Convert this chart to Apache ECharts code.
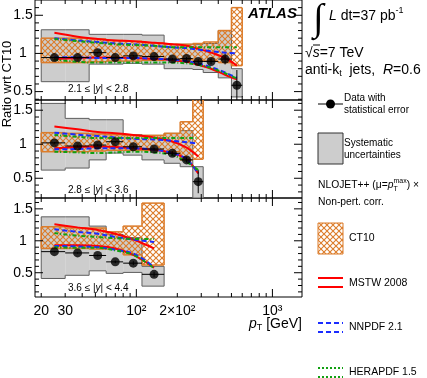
<!DOCTYPE html>
<html>
<head>
<meta charset="utf-8">
<script src="https://cdn.jsdelivr.net/npm/echarts@6/dist/echarts.min.js"></script>
<style>
  html, body { margin: 0; padding: 0; background: #fff; }
  #chart { width: 427px; height: 378px; }
</style>
</head>
<body>
<div id="chart"></div>
<script>
// bin edges (GeV) and points for each rapidity slice
const edges1 = [20, 30, 45, 60, 80, 110, 160, 210, 260, 310, 400, 500, 600];
const centers1 = [25, 37, 52, 70, 95, 135, 184, 234, 285, 354, 449, 548];
const ratio1 = [0.946, 0.946, 1.01, 0.946, 0.968, 0.959, 0.926, 0.933, 0.895, 0.895, 0.926, 0.583];
const stat1 = [0.01, 0.01, 0.01, 0.01, 0.01, 0.01, 0.015, 0.02, 0.025, 0.035, 0.07, 0.2];
const sysLo1 = [0.63, 0.63, 0.86, 0.86, 0.87, 0.86, 0.80, 0.80, 0.79, 0.75, 0.68, 0.43];
const sysHi1 = [1.31, 1.31, 1.25, 1.25, 1.25, 1.24, 1.12, 1.12, 1.12, 1.13, 1.30, 0.80];
const ctLo1 = [0.88, 0.88, 0.89, 0.90, 0.90, 0.91, 0.92, 0.92, 0.91, 0.90, 0.88, 0.84];
const ctHi1 = [1.20, 1.20, 1.19, 1.17, 1.16, 1.14, 1.12, 1.12, 1.13, 1.15, 1.30, 1.60];
const mstwLo1 = [0.925, 0.94, 0.946, 0.945, 0.94, 0.93, 0.91, 0.89, 0.85, 0.80, 0.72, 0.66];
const mstwHi1 = [1.27, 1.22, 1.19, 1.17, 1.16, 1.14, 1.12, 1.10, 1.06, 1.01, 0.94, 0.84];
const nnLo1 = [0.95, 0.95, 0.94, 0.94, 0.94, 0.93, 0.92, 0.90, 0.87, 0.82, 0.75, 0.68];
const nnHi1 = [1.20, 1.17, 1.15, 1.13, 1.12, 1.10, 1.08, 1.07, 1.05, 1.03, 1.01, 1.00];
const heraLo1 = [0.92, 0.89, 0.88, 0.88, 0.88, 0.88, 0.88, 0.87, 0.85, 0.81, 0.74, 0.67];
const heraHi1 = [1.19, 1.16, 1.14, 1.12, 1.11, 1.10, 1.08, 1.08, 1.08, 1.08, 1.08, 1.08];

const edges2 = [20, 30, 45, 60, 80, 110, 160, 210, 260, 310];
const centers2 = [25, 37, 52, 70, 95, 135, 184, 234, 285];
const ratio2 = [1.02, 0.974, 0.988, 1.037, 0.963, 0.93, 0.867, 0.77, 0.45];
const stat2 = [0.01, 0.01, 0.01, 0.01, 0.015, 0.02, 0.03, 0.04, 0.17];
const sysLo2 = [0.62, 0.65, 0.77, 0.87, 0.84, 0.77, 0.72, 0.67, 0.21];
const sysHi2 = [1.60, 1.38, 1.36, 1.36, 1.14, 1.13, 1.16, 1.20, 0.67];
const ctLo2 = [0.89, 0.89, 0.90, 0.91, 0.91, 0.91, 0.89, 0.77, 0.78];
const ctHi2 = [1.17, 1.16, 1.15, 1.14, 1.13, 1.13, 1.16, 1.33, 1.70];
const mstwLo2 = [0.94, 0.96, 0.965, 0.96, 0.94, 0.92, 0.87, 0.78, 0.57];
const mstwHi2 = [1.26, 1.22, 1.18, 1.16, 1.135, 1.10, 1.04, 0.95, 0.82];
const nnLo2 = [0.925, 0.93, 0.94, 0.94, 0.94, 0.92, 0.87, 0.78, 0.57];
const nnHi2 = [1.17, 1.14, 1.12, 1.10, 1.08, 1.07, 1.05, 1.03, 1.01];
const heraLo2 = [0.89, 0.88, 0.87, 0.88, 0.89, 0.88, 0.84, 0.74, 0.62];
const heraHi2 = [1.135, 1.11, 1.09, 1.09, 1.09, 1.09, 1.09, 1.09, 1.09];

const edges3 = [20, 30, 45, 60, 80, 110, 160];
const centers3 = [25, 37, 52, 70, 95, 135];
const ratio3 = [0.83, 0.81, 0.77, 0.67, 0.65, 0.475];
const stat3 = [0.01, 0.01, 0.015, 0.02, 0.03, 0.04];
const sysLo3 = [0.41, 0.46, 0.53, 0.49, 0.505, 0.29];
const sysHi3 = [1.375, 1.375, 1.23, 1.10, 1.05, 0.60];
const ctLo3 = [0.88, 0.88, 0.87, 0.87, 0.78, 0.62];
const ctHi3 = [1.22, 1.20, 1.20, 1.14, 1.23, 1.59];
const mstwLo3 = [0.93, 0.93, 0.92, 0.88, 0.78, 0.58];
const mstwHi3 = [1.26, 1.21, 1.17, 1.11, 1.02, 0.88];
const nnLo3 = [0.92, 0.91, 0.90, 0.86, 0.80, 0.59];
const nnHi3 = [1.18, 1.14, 1.11, 1.06, 1.02, 0.98];
const heraLo3 = [0.90, 0.89, 0.89, 0.85, 0.78, 0.57];
const heraHi3 = [1.12, 1.08, 1.06, 1.04, 1.03, 1.03];

const rapLabels = ['2.1 ≤ |', '2.8 ≤ |', '3.6 ≤ |'];
const rapUpper = ['| < 2.8', '| < 3.6', '| < 4.4'];

// axis ticks and labels
const xTicks = [20, 30, 40, 50, 60, 70, 80, 90, 100, 200, 300, 400, 500, 600, 700, 800, 900, 1000];
const xMajor = [100, 1000];
const xLabelVals = [20, 30, 100, 200, 1000];
const xLabels = ['20', '30', '10²', '2×10²', '10³'];
const yTicks = [0.2, 0.3, 0.4, 0.5, 0.6, 0.7, 0.8, 0.9, 1.0, 1.1, 1.2, 1.3, 1.4, 1.5, 1.6];
const yLabelVals = [0.5, 1, 1.5];

const xMin = 18, xMax = 1650;
const layout = [
  { top: -2, height: 102, yMin: 0.39, yMax: 1.70, labelY: 89 },
  { top: 100, height: 98, yMin: 0.21, yMax: 1.65, labelY: 190 },
  { top: 198, height: 99, yMin: 0.12, yMax: 1.67, labelY: 288 }
];

const panels = [
  { edges: edges1, centers: centers1, ratio: ratio1, stat: stat1, sysLo: sysLo1, sysHi: sysHi1, ctLo: ctLo1, ctHi: ctHi1,
    mstw: [mstwLo1, mstwHi1], nn: [nnLo1, nnHi1], hera: [heraLo1, heraHi1] },
  { edges: edges2, centers: centers2, ratio: ratio2, stat: stat2, sysLo: sysLo2, sysHi: sysHi2, ctLo: ctLo2, ctHi: ctHi2,
    mstw: [mstwLo2, mstwHi2], nn: [nnLo2, nnHi2], hera: [heraLo2, heraHi2] },
  { edges: edges3, centers: centers3, ratio: ratio3, stat: stat3, sysLo: sysLo3, sysHi: sysHi3, ctLo: ctLo3, ctHi: ctHi3,
    mstw: [mstwLo3, mstwHi3], nn: [nnLo3, nnHi3], hera: [heraLo3, heraHi3] }
];

const FONT = 'Liberation Sans';
const ORANGE = '#dc7c2a';
const GRAYFILL = '#cdcdcd';
const GRAYLINE = '#5e5e5e';

// cross hatch for CT10
const hatchCanvas = document.createElement('canvas');
hatchCanvas.width = 6; hatchCanvas.height = 6;
const hc = hatchCanvas.getContext('2d');
hc.strokeStyle = ORANGE; hc.lineWidth = 1.1;
hc.beginPath();
hc.moveTo(0, 0); hc.lineTo(6, 6);
hc.moveTo(6, 0); hc.lineTo(0, 6);
hc.stroke();
const hatch = { image: hatchCanvas, repeat: 'repeat' };

function band(k, edges, lo, hi, fill, stroke, lw, z) {
  return {
    type: 'custom', xAxisIndex: k, yAxisIndex: k, z, clip: true, silent: true,
    data: lo.map((v, i) => [edges[i], hi[i]]),
    renderItem(params, api) {
      const i = params.dataIndex;
      const a = api.coord([edges[i], hi[i]]);
      const b = api.coord([edges[i + 1], lo[i]]);
      const kids = [{ type: 'rect', shape: { x: a[0], y: a[1], width: b[0] - a[0], height: b[1] - a[1] }, style: { fill } }];
      const seg = (x1, y1, x2, y2) => kids.push({ type: 'line', shape: { x1, y1, x2, y2 }, style: { stroke, lineWidth: lw } });
      seg(a[0], a[1], b[0], a[1]);
      seg(a[0], b[1], b[0], b[1]);
      if (i === 0) {
        seg(a[0], a[1], a[0], b[1]);
      } else {
        const pa = api.coord([edges[i], hi[i - 1]]);
        const pb = api.coord([edges[i], lo[i - 1]]);
        seg(a[0], a[1], a[0], pa[1]);
        seg(a[0], b[1], a[0], pb[1]);
      }
      if (i === lo.length - 1) seg(b[0], a[1], b[0], b[1]);
      return { type: 'group', children: kids };
    }
  };
}

function curve(k, centers, vals, color, type) {
  return {
    type: 'line', xAxisIndex: k, yAxisIndex: k, z: 3, silent: true, clip: true,
    data: centers.map((c, i) => [c, vals[i]]),
    smooth: 0.35, symbol: 'none',
    lineStyle: { color, width: 2, type }
  };
}

const series = [];
panels.forEach((p, k) => {
  const L = layout[k];
  series.push(band(k, p.edges, p.sysLo, p.sysHi, GRAYFILL, GRAYLINE, 1, 1));
  series.push(band(k, p.edges, p.ctLo, p.ctHi, hatch, ORANGE, 1.5, 2));
  p.mstw.forEach(v => series.push(curve(k, p.centers, v, '#ff0000', 'solid')));
  p.nn.forEach(v => series.push(curve(k, p.centers, v, '#1a2cff', [5, 3])));
  p.hera.forEach(v => series.push(curve(k, p.centers, v, '#11a011', [4, 2, 1, 2])));

  // horizontal bin width + stat error
  series.push({
    type: 'custom', xAxisIndex: k, yAxisIndex: k, z: 4, silent: true, clip: true,
    data: p.ratio.map((r, i) => [p.centers[i], r]),
    renderItem(params, api) {
      const i = params.dataIndex;
      const l = api.coord([p.edges[i], p.ratio[i]]);
      const r = api.coord([p.edges[i + 1], p.ratio[i]]);
      const t = api.coord([p.centers[i], p.ratio[i] + p.stat[i]]);
      const b = api.coord([p.centers[i], p.ratio[i] - p.stat[i]]);
      const st = { stroke: '#000', lineWidth: 1 };
      return { type: 'group', children: [
        { type: 'line', shape: { x1: l[0], y1: l[1], x2: r[0], y2: r[1] }, style: st },
        { type: 'line', shape: { x1: t[0], y1: t[1], x2: b[0], y2: b[1] }, style: st }
      ] };
    }
  });
  series.push({
    type: 'scatter', xAxisIndex: k, yAxisIndex: k, z: 5, silent: true,
    data: p.ratio.map((r, i) => [p.centers[i], r]),
    symbolSize: 9, itemStyle: { color: '#000' }
  });

  // x ticks (top and bottom, inward) + labels on bottom panel
  series.push({
    type: 'custom', xAxisIndex: k, yAxisIndex: k, z: 6, silent: true, clip: false,
    data: xTicks.map(v => [v, L.yMin]),
    renderItem(params, api) {
      const v = xTicks[params.dataIndex];
      const len = xMajor.includes(v) ? 8 : 4;
      const b = api.coord([v, L.yMin]);
      const t = api.coord([v, L.yMax]);
      const kids = [
        { type: 'line', shape: { x1: b[0], y1: b[1], x2: b[0], y2: b[1] - len }, style: { stroke: '#000', lineWidth: 1 } },
        { type: 'line', shape: { x1: t[0], y1: t[1], x2: t[0], y2: t[1] + len }, style: { stroke: '#000', lineWidth: 1 } }
      ];
      const li = xLabelVals.indexOf(v);
      if (k === 2 && li >= 0) {
        kids.push({ type: 'text', x: b[0], y: b[1] + 14, style: {
          text: xLabels[li], fill: '#000', fontFamily: FONT, fontSize: 14, align: 'center', verticalAlign: 'middle' } });
      }
      return { type: 'group', children: kids };
    }
  });
  // y ticks (left and right, inward) + labels
  const yT = yTicks.filter(v => v > L.yMin && v < L.yMax);
  series.push({
    type: 'custom', xAxisIndex: k, yAxisIndex: k, z: 6, silent: true, clip: false,
    data: yT.map(v => [xMin, v]),
    renderItem(params, api) {
      const v = yT[params.dataIndex];
      const major = yLabelVals.some(m => Math.abs(m - v) < 1e-6);
      const len = major ? 8 : 4;
      const l = api.coord([xMin, v]);
      const r = api.coord([xMax, v]);
      const kids = [
        { type: 'line', shape: { x1: l[0], y1: l[1], x2: l[0] + len, y2: l[1] }, style: { stroke: '#000', lineWidth: 1 } },
        { type: 'line', shape: { x1: r[0], y1: r[1], x2: r[0] - len, y2: r[1] }, style: { stroke: '#000', lineWidth: 1 } }
      ];
      if (major) {
        kids.push({ type: 'text', x: l[0] - 12, y: l[1], style: {
          text: String(v), fill: '#000', fontFamily: FONT, fontSize: 14, align: 'center', verticalAlign: 'middle' } });
      }
      return { type: 'group', children: kids };
    }
  });
});

// text runs for legend / annotations
const meas = document.createElement('canvas').getContext('2d');
function fontOf(p) {
  return (p.italic ? 'italic ' : '') + (p.bold ? 'bold ' : '') + p.size + 'px "' + FONT + '"';
}
function runWidth(parts) {
  let w = 0;
  parts.forEach(p => { meas.font = fontOf(p); if (!p.stay) w += meas.measureText(p.t).width; });
  return w;
}
function run(x, y, parts) {
  const out = [];
  parts.forEach(p => {
    out.push({ type: 'text', x, y: y + (p.dy || 0), silent: true, z: 10, style: {
      text: p.t, fill: '#000', fontFamily: FONT, fontSize: p.size,
      fontStyle: p.italic ? 'italic' : 'normal', fontWeight: p.bold ? 'bold' : 'normal', verticalAlign: 'middle' } });
    meas.font = fontOf(p);
    if (!p.stay) x += meas.measureText(p.t).width;
  });
  return out;
}

const graphic = [];
// integrated luminosity
graphic.push({ type: 'text', x: 313, y: 20, silent: true, style: { text: '∫', fill: '#000', fontFamily: 'Liberation Serif', fontSize: 38, verticalAlign: 'middle' } });
graphic.push(...run(329, 16, [{ t: 'L', size: 14, italic: true }, { t: ' dt=37 pb', size: 14 }, { t: '-1', size: 9, dy: -5 }]));
graphic.push(...run(305, 53, [{ t: '√', size: 14 }, { t: 's', size: 14, italic: true }, { t: '=7 TeV', size: 14 }]));
graphic.push({ type: 'line', silent: true, shape: { x1: 313, y1: 45, x2: 320, y2: 45 }, style: { stroke: '#000', lineWidth: 1 } });
graphic.push(...run(305, 70, [{ t: 'anti-k', size: 14 }, { t: 't', size: 9, dy: 4 }, { t: '  jets,  ', size: 14 }, { t: 'R', size: 14, italic: true }, { t: '=0.6', size: 14 }]));
// ATLAS
graphic.push(...run(248, 14, [{ t: 'ATLAS', size: 15, bold: true, italic: true }]));

// data legend
graphic.push({ type: 'line', silent: true, shape: { x1: 318, y1: 104, x2: 343, y2: 104 }, style: { stroke: '#000', lineWidth: 1 } });
graphic.push({ type: 'circle', silent: true, shape: { cx: 330.5, cy: 104, r: 4.5 }, style: { fill: '#000' } });
graphic.push(...run(344, 98, [{ t: 'Data with', size: 10 }]));
graphic.push(...run(344, 110, [{ t: 'statistical error', size: 10 }]));
// systematic legend
graphic.push({ type: 'rect', silent: true, shape: { x: 318, y: 133, width: 25, height: 31 }, style: { fill: GRAYFILL, stroke: '#333', lineWidth: 1 } });
graphic.push(...run(344, 143, [{ t: 'Systematic', size: 10 }]));
graphic.push(...run(344, 155, [{ t: 'uncertainties', size: 10 }]));
// NLO description
graphic.push(...run(318, 185, [{ t: 'NLOJET++ (μ=', size: 10.3 }, { t: 'p', size: 10.3, italic: true },
  { t: 'T', size: 7, dy: 4, stay: true }, { t: 'max', size: 7, dy: -4 }, { t: ') ×', size: 10.3 }]));
graphic.push(...run(318, 202, [{ t: 'Non-pert. corr.', size: 10.3 }]));
// CT10
graphic.push({ type: 'rect', silent: true, shape: { x: 318, y: 223, width: 25, height: 31 }, style: { fill: hatch, stroke: ORANGE, lineWidth: 1 } });
graphic.push(...run(349, 238, [{ t: 'CT10', size: 10.5 }]));
// MSTW
[278, 287].forEach(y => graphic.push({ type: 'line', silent: true, shape: { x1: 318, y1: y, x2: 343, y2: y }, style: { stroke: '#ff0000', lineWidth: 2 } }));
graphic.push(...run(349, 283, [{ t: 'MSTW 2008', size: 10.5 }]));
// NNPDF
[323, 332].forEach(y => graphic.push({ type: 'line', silent: true, shape: { x1: 318, y1: y, x2: 343, y2: y }, style: { stroke: '#1a2cff', lineWidth: 2, lineDash: [5, 3] } }));
graphic.push(...run(349, 327, [{ t: 'NNPDF 2.1', size: 10.5 }]));
// HERAPDF
[368, 377].forEach(y => graphic.push({ type: 'line', silent: true, shape: { x1: 318, y1: y, x2: 343, y2: y }, style: { stroke: '#11a011', lineWidth: 2, lineDash: [2, 2] } }));
graphic.push(...run(349, 372, [{ t: 'HERAPDF 1.5', size: 10.5 }]));

// rapidity labels
layout.forEach((L, k) => {
  graphic.push(...run(68, L.labelY, [{ t: rapLabels[k], size: 10 }, { t: 'y', size: 10, italic: true }, { t: rapUpper[k], size: 10 }]));
});

// axis titles
graphic.push({ type: 'text', x: 7, y: 84, rotation: Math.PI / 2, silent: true, style: {
  text: 'Ratio wrt CT10', fill: '#000', fontFamily: FONT, fontSize: 13, align: 'center', verticalAlign: 'middle' } });
const xTitle = [{ t: 'p', size: 14, italic: true }, { t: 'T', size: 9, dy: 4 }, { t: ' [GeV]', size: 14 }];
graphic.push(...run(302 - runWidth(xTitle), 324, xTitle));

const chart = echarts.init(document.getElementById('chart'));
chart.setOption({
  animation: false,
  grid: layout.map(L => ({ left: 35, width: 267, top: L.top, height: L.height, show: true, borderColor: '#000', borderWidth: 1, backgroundColor: 'transparent' })),
  xAxis: layout.map((L, k) => ({
    type: 'log', gridIndex: k, min: xMin, max: xMax, logBase: 10,
    axisLine: { show: false }, axisTick: { show: false }, axisLabel: { show: false }, splitLine: { show: false }
  })),
  yAxis: layout.map((L, k) => ({
    type: 'value', gridIndex: k, min: L.yMin, max: L.yMax,
    axisLine: { show: false }, axisTick: { show: false }, axisLabel: { show: false }, splitLine: { show: false }
  })),
  series,
  graphic
});
</script>
</body>
</html>
